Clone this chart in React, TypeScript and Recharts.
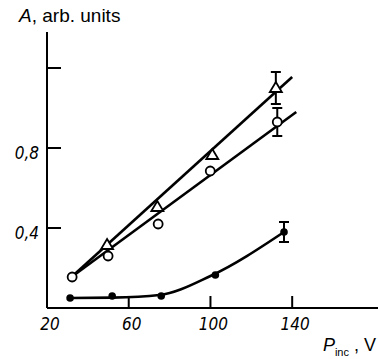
import React from 'react';
import { ComposedChart, Line, Scatter, XAxis, YAxis, ErrorBar } from 'recharts';

// measured points
const triangles = [
  { x: 49.4, y: 0.315 },
  { x: 74, y: 0.505 },
  { x: 100.9, y: 0.765 },
  { x: 132, y: 1.1 },
];
const openCircles = [
  { x: 32.3, y: 0.155 },
  { x: 49.9, y: 0.26 },
  { x: 74.4, y: 0.42 },
  { x: 99.9, y: 0.685 },
  { x: 132.7, y: 0.93 },
];
const filledCircles = [
  { x: 31.3, y: 0.05 },
  { x: 51.9, y: 0.06 },
  { x: 75.9, y: 0.06 },
  { x: 102.4, y: 0.165 },
  { x: 136, y: 0.38 },
];
// error bars on the last point of each series
const errorPoints = [
  { x: 132, y: 1.1, err: 0.08 },
  { x: 132.7, y: 0.93, err: 0.07 },
  { x: 136, y: 0.38, err: 0.05 },
];

// fitted curves
const triangleFit = [
  { x: 32, y: 0.155 },
  { x: 140, y: 1.155 },
];
const circleFit = [
  { x: 32, y: 0.155 },
  { x: 142, y: 0.98 },
];
const filledFit = [
  { x: 31.3, y: 0.05 },
  { x: 52, y: 0.052 },
  { x: 75, y: 0.065 },
  { x: 100, y: 0.16 },
  { x: 136, y: 0.38 },
];

const xTicks = [20, 60, 100, 140];
const yTicks = [0.4, 0.8, 1.2];
const yLabels: Record<string, string> = { '0.4': '0,4', '0.8': '0,8' };

const tickFont = { fontFamily: '"Liberation Sans Narrow", "DejaVu Sans Condensed", sans-serif', fontStyle: 'italic', fontSize: 17 };

const YTick = (props: any) => {
  const { x, y, payload } = props;
  const label = yLabels[String(payload.value)];
  return (
    <g>
      <line x1={x} x2={x + 14} y1={y} y2={y} stroke="#000" strokeWidth={2} />
      {label && (
        <text x={x - 8} y={y + 11} textAnchor="end" fill="#000" style={tickFont}>
          {label}
        </text>
      )}
    </g>
  );
};

const XTick = (props: any) => {
  const { x, y, payload } = props;
  return (
    <g>
      {payload.value !== 20 && <line x1={x} x2={x} y1={y} y2={y - 12} stroke="#000" strokeWidth={2} />}
      <text x={x + 3} y={y + 22} textAnchor="middle" fill="#000" style={tickFont}>
        {payload.value}
      </text>
    </g>
  );
};

const Triangle = (props: any) => {
  const { cx, cy } = props;
  return (
    <path
      d={`M${cx},${cy - 6} L${cx + 6},${cy + 4} L${cx - 6},${cy + 4} Z`}
      fill="#fff"
      stroke="#000"
      strokeWidth={1.8}
    />
  );
};
const OpenDot = (props: any) => <circle cx={props.cx} cy={props.cy} r={4.5} fill="#fff" stroke="#000" strokeWidth={1.8} />;
const FilledDot = (props: any) => <circle cx={props.cx} cy={props.cy} r={3.8} fill="#000" />;
const NoDot = () => <g />;

export default function App() {
  return (
    <div style={{ position: 'absolute', left: 0, top: 0, width: 378, height: 359, background: '#fff', fontFamily: 'Arial, "Liberation Sans", sans-serif' }}>
      <ComposedChart width={378} height={359} margin={{ top: 32, right: 0, bottom: 0, left: 0 }}>
        <XAxis
          type="number"
          dataKey="x"
          domain={[20, 182]}
          ticks={xTicks}
          allowDataOverflow
          height={51}
          tickSize={0}
          tickMargin={0}
          tickLine={false}
          tick={<XTick />}
          axisLine={{ stroke: '#000', strokeWidth: 2 }}
        />
        <YAxis
          type="number"
          dataKey="y"
          domain={[0, 1.38]}
          ticks={yTicks}
          allowDataOverflow
          width={47}
          tickSize={0}
          tickMargin={0}
          tickLine={false}
          tick={<YTick />}
          axisLine={{ stroke: '#000', strokeWidth: 2 }}
        />
        <Line data={triangleFit} dataKey="y" type="linear" stroke="#000" strokeWidth={2.6} dot={false} isAnimationActive={false} />
        <Line data={circleFit} dataKey="y" type="linear" stroke="#000" strokeWidth={2.6} dot={false} isAnimationActive={false} />
        <Line data={filledFit} dataKey="y" type="monotone" stroke="#000" strokeWidth={2.6} dot={false} isAnimationActive={false} />
        <Scatter data={errorPoints} dataKey="y" shape={<NoDot />} isAnimationActive={false}>
          <ErrorBar dataKey="err" direction="y" width={5} stroke="#000" strokeWidth={2} isAnimationActive={false} />
        </Scatter>
        <Scatter data={triangles} dataKey="y" shape={<Triangle />} isAnimationActive={false} />
        <Scatter data={openCircles} dataKey="y" shape={<OpenDot />} isAnimationActive={false} />
        <Scatter data={filledCircles} dataKey="y" shape={<FilledDot />} isAnimationActive={false} />
      </ComposedChart>
      <div style={{ position: 'absolute', left: 19, top: 4, fontSize: 19, lineHeight: '24px', color: '#000', whiteSpace: 'nowrap' }}>
        <i>A</i>, arb. units
      </div>
      <div style={{ position: 'absolute', right: 2, top: 333, fontSize: 18, lineHeight: '24px', color: '#000', whiteSpace: 'nowrap' }}>
        <i>P</i>
        <sub style={{ fontSize: 11 }}>inc</sub> , V
      </div>
    </div>
  );
}
